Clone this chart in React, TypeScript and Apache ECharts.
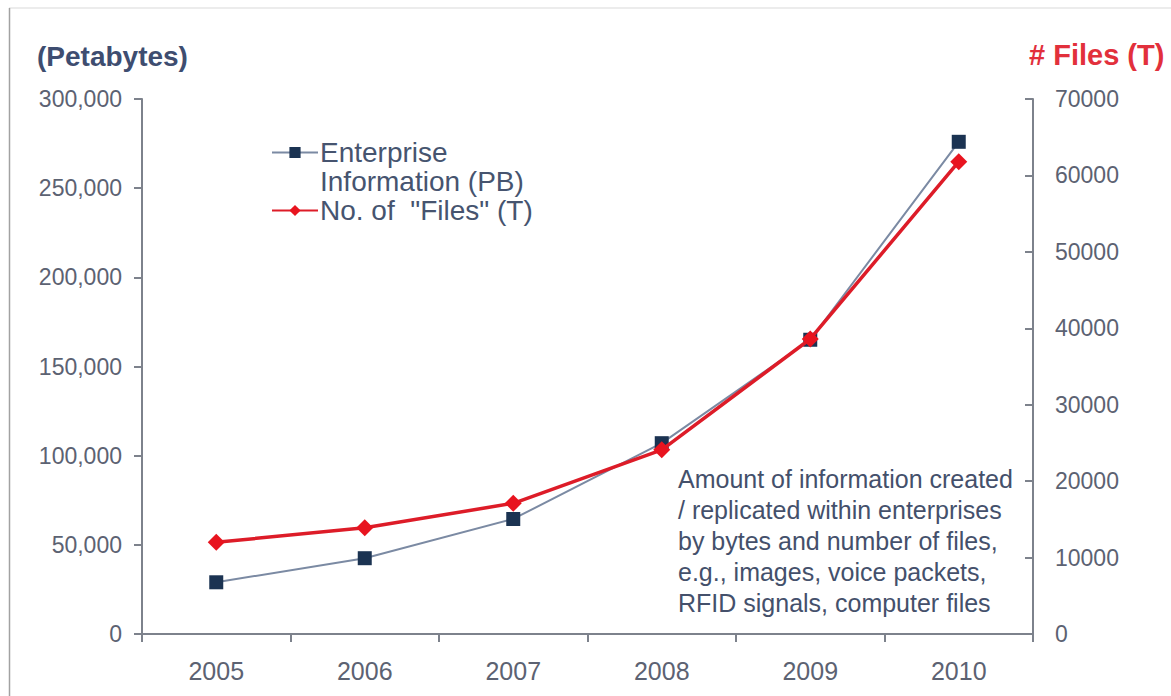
import { useEffect, useRef } from "react";
import * as echarts from "echarts";

// Years on the category axis
const years = ["2005", "2006", "2007", "2008", "2009", "2010"];

// Enterprise information created / replicated, in petabytes (left axis)
const enterprisePB = [29000, 42500, 64500, 107000, 165000, 276000];

// Number of files, in trillions (right axis)
const filesT = [12000, 13900, 17100, 24100, 38600, 61800];

// Axis ranges
const pbMin = 0;
const pbMax = 300000;
const pbStep = 50000;
const filesMin = 0;
const filesMax = 70000;
const filesStep = 10000;

const seriesNames = ["Enterprise Information (PB)", 'No. of  "Files" (T)'];

const axisGray = "#7d828c";
const labelGray = "#5c6272";
const slate = "#46546f";
const FONT = "'Liberation Sans', Arial, sans-serif";

export default function App() {
  const ref = useRef<HTMLDivElement>(null);

  useEffect(() => {
    if (!ref.current) return;
    const chart = echarts.init(ref.current, null, { renderer: "svg" });

    chart.setOption({
      animation: false,
      backgroundColor: "#ffffff",
      textStyle: { fontFamily: FONT },
      grid: { left: 142, right: 138, top: 99, bottom: 62, containLabel: false },
      legend: {
        orient: "vertical",
        left: 266,
        top: 104,
        itemGap: 0,
        itemWidth: 46,
        itemHeight: 14,
        data: seriesNames,
        formatter: (name: string) =>
          name === seriesNames[0] ? "\nEnterprise\nInformation (PB)" : name,
        textStyle: {
          fontFamily: FONT,
          fontSize: 28,
          lineHeight: 29,
          color: slate,
          padding: [0, 0, 0, -3],
        },
      },
      xAxis: {
        type: "category",
        data: years,
        boundaryGap: true,
        axisLine: { lineStyle: { color: axisGray, width: 2 } },
        axisTick: { show: true, length: 8, lineStyle: { color: axisGray, width: 2 } },
        axisLabel: { fontSize: 25, color: labelGray, margin: 24, fontFamily: FONT },
        splitLine: { show: false },
      },
      yAxis: [
        {
          type: "value",
          min: pbMin,
          max: pbMax,
          interval: pbStep,
          position: "left",
          splitLine: { show: false },
          axisLine: { show: true, lineStyle: { color: axisGray, width: 2 } },
          axisTick: { show: true, length: 8, lineStyle: { color: axisGray, width: 2 } },
          axisLabel: {
            fontSize: 23,
            color: labelGray,
            margin: 20,
            fontFamily: FONT,
            formatter: (v: number) => v.toLocaleString("en-US"),
          },
        },
        {
          type: "value",
          min: filesMin,
          max: filesMax,
          interval: filesStep,
          position: "right",
          splitLine: { show: false },
          name: "# Files (T)",
          nameLocation: "end",
          nameGap: 30,
          nameTextStyle: {
            align: "left",
            fontSize: 29,
            fontWeight: "bold",
            color: "#e2303c",
            fontFamily: FONT,
            padding: [0, 0, 0, -4],
          },
          axisLine: { show: true, lineStyle: { color: axisGray, width: 2 } },
          axisTick: { show: true, inside: true, length: 8, lineStyle: { color: axisGray, width: 2 } },
          axisLabel: {
            fontSize: 23,
            color: labelGray,
            margin: 22,
            fontFamily: FONT,
            formatter: (v: number) => String(v),
          },
        },
      ],
      graphic: [
        {
          type: "line",
          shape: { x1: 9, y1: 8, x2: 1171, y2: 8 },
          style: { stroke: "#e6e6e6", lineWidth: 1.5 },
          silent: true,
        },
        {
          type: "line",
          shape: { x1: 9.5, y1: 8, x2: 9.5, y2: 696 },
          style: { stroke: "#a2a2a2", lineWidth: 1.5 },
          silent: true,
        },
        {
          type: "text",
          left: 37,
          top: 42,
          style: {
            text: "(Petabytes)",
            font: `bold 28px ${FONT}`,
            fill: "#3e4d70",
          },
        },
        {
          type: "text",
          left: 678,
          top: 463,
          style: {
            text:
              "Amount of information created\n/ replicated within enterprises\nby bytes and number of files,\ne.g., images, voice packets,\nRFID signals, computer files",
            font: `25px ${FONT}`,
            lineHeight: 31,
            fill: "#44506b",
          },
        },
      ],
      series: [
        {
          name: seriesNames[0],
          type: "line",
          data: enterprisePB,
          yAxisIndex: 0,
          symbol: "rect",
          symbolSize: 14,
          lineStyle: { color: "#7b8aa3", width: 2 },
          itemStyle: { color: "#1b3352" },
          z: 2,
        },
        {
          name: seriesNames[1],
          type: "line",
          data: filesT,
          yAxisIndex: 1,
          symbol: "diamond",
          symbolSize: 17,
          lineStyle: { color: "#dd1c28", width: 3.5 },
          itemStyle: { color: "#e8141f" },
          z: 3,
        },
      ],
    });

    return () => chart.dispose();
  }, []);

  return (
    <div
      ref={ref}
      style={{ position: "fixed", left: 0, top: 0, width: 1171, height: 696 }}
    />
  );
}
